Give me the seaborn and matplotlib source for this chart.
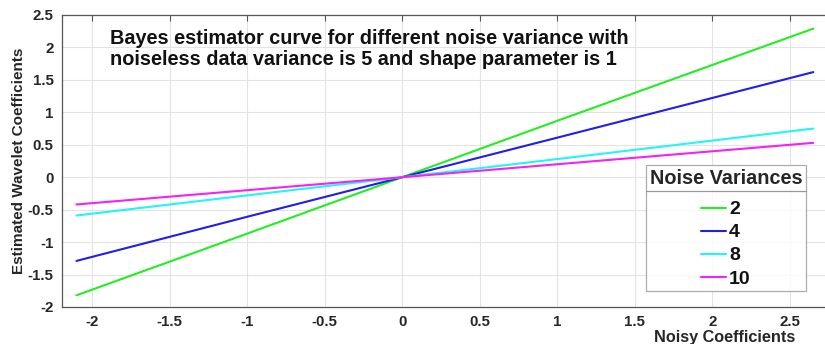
import matplotlib
matplotlib.use("Agg")
import matplotlib.pyplot as plt
import seaborn as sns
import pandas as pd
from matplotlib.lines import Line2D

# ---- data ----
noisy_coeffs = [-2.1, -1.0, 0.0, 1.0, 2.65]
est_var2 = [-1.82, -0.87, 0.0, 0.87, 2.29]
est_var4 = [-1.29, -0.61, 0.0, 0.61, 1.62]
est_var8 = [-0.59, -0.28, 0.0, 0.28, 0.75]
est_var10 = [-0.42, -0.20, 0.0, 0.20, 0.53]
variance_labels = ["2", "4", "8", "10"]
x_ticks = [-2, -1.5, -1, -0.5, 0, 0.5, 1, 1.5, 2, 2.5]
x_tick_labels = ["-2", "-1.5", "-1", "-0.5", "0", "0.5", "1", "1.5", "2", "2.5"]
y_ticks = [-2, -1.5, -1, -0.5, 0, 0.5, 1, 1.5, 2, 2.5]
y_tick_labels = ["-2", "-1.5", "-1", "-0.5", "0", "0.5", "1", "1.5", "2", "2.5"]

series = [est_var2, est_var4, est_var8, est_var10]
rows = []
for lab, ys in zip(variance_labels, series):
    for x, y in zip(noisy_coeffs, ys):
        rows.append({"x": x, "y": y, "var": lab})
df = pd.DataFrame(rows)

colors = ["#22ee22", "#1f1fe6", "#22f5f5", "#f522f5"]

sns.set_style("white")
plt.rcParams["font.family"] = ["Liberation Sans", "DejaVu Sans"]
plt.rcParams["font.weight"] = "bold"

W, H = 825, 344
fig = plt.figure(figsize=(W / 100, H / 100), dpi=100)
ax = fig.add_axes([62 / W, 37 / H, 771 / W, 292 / H])

sns.lineplot(data=df, x="x", y="y", hue="var", palette=colors,
             hue_order=variance_labels, linewidth=1.5, ax=ax, legend=False)

ax.set_xlim(-2.193, 2.777)
ax.set_ylim(-2, 2.5)
ax.set_xticks(x_ticks)
ax.set_xticklabels(x_tick_labels)
ax.set_yticks(y_ticks)
ax.set_yticklabels(y_tick_labels)
ax.grid(True, color="#e3e3e3", linewidth=0.8)
ax.set_axisbelow(True)
ax.tick_params(axis="both", direction="in", length=4, color="#555555",
               labelsize=10.8, labelcolor="#262626", top=True, right=False, pad=6)
for lab in ax.get_xticklabels() + ax.get_yticklabels():
    lab.set_fontweight("bold")
for s in ["left", "bottom", "top"]:
    ax.spines[s].set_color("#555555")
    ax.spines[s].set_linewidth(0.9)
ax.spines["right"].set_visible(False)

ax.set_ylabel("Estimated Wavelet Coefficients", fontsize=11, fontweight="bold",
              color="#262626")
ax.yaxis.set_label_coords(-0.047, 0.5)
ax.set_xlabel("Noisy Coefficients", fontsize=11.7, fontweight="bold", color="#262626")
ax.xaxis.set_label_coords(0.859, -0.078)

ax.text(0.062, 0.952,
        "Bayes estimator curve for different noise variance with\n"
        "noiseless data variance is 5 and shape parameter is 1",
        transform=ax.transAxes, fontsize=14.3, fontweight="bold", color="#111111",
        va="top", ha="left", linespacing=1.13)

handles = [Line2D([0], [0], color=c, lw=1.5) for c in colors]
leg = ax.legend(handles, variance_labels, title="Noise Variances",
                loc="upper right", bbox_to_anchor=(0.965, 0.485),
                frameon=True, fancybox=False, edgecolor="#999999",
                prop={"weight": "bold", "size": 14},
                title_fontproperties={"weight": "bold", "size": 14.3},
                handlelength=1.3, handletextpad=0.15, labelspacing=0.28,
                borderpad=0.2, borderaxespad=0)
leg.get_frame().set_linewidth(0.9)
leg._legend_box.align = "center"
leg._legend_box.sep = 9
for t in leg.get_texts():
    t.set_color("#111111")

fig.canvas.draw()
bb = leg.get_window_extent()
tb = leg.get_title().get_window_extent()
ysep = (tb.y0 - 3) / H
fig.add_artist(Line2D([bb.x0 / W, bb.x1 / W], [ysep, ysep],
                      transform=fig.transFigure, color="#999999", lw=0.9))

fig.savefig("out.png", dpi=100)
